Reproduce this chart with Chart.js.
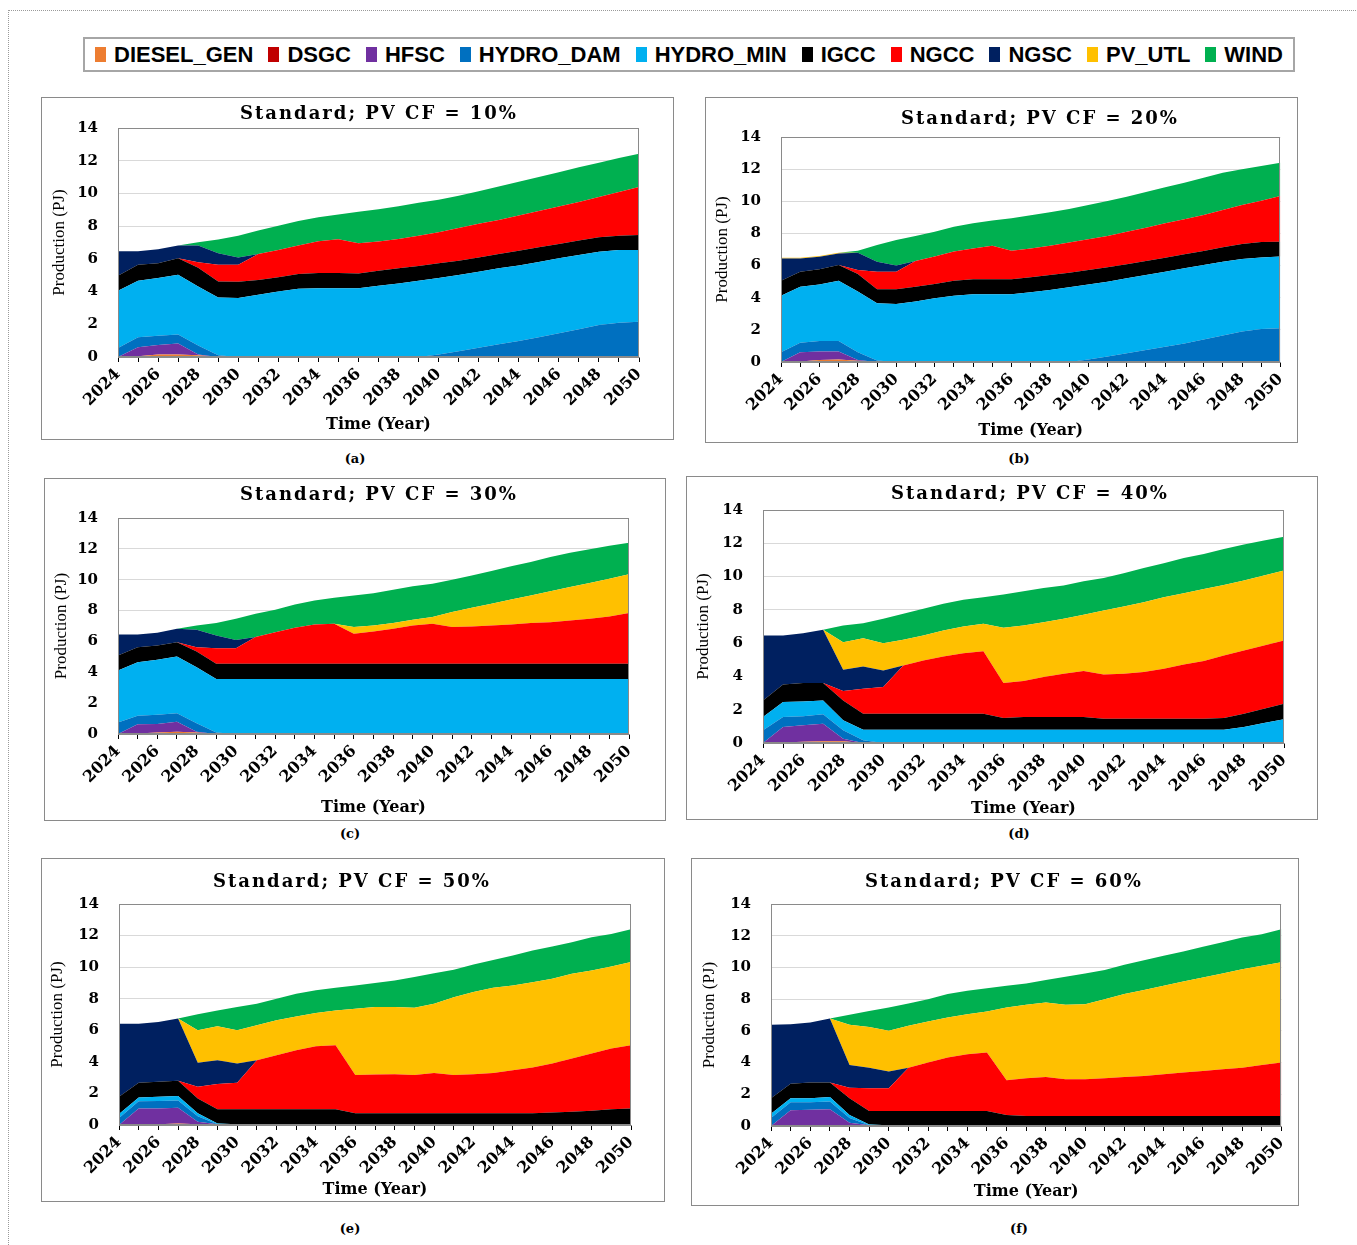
<!DOCTYPE html>
<html><head><meta charset="utf-8">
<script src="https://cdn.jsdelivr.net/npm/chart.js@4"></script>
<style>
body{margin:0;background:#fff;width:1357px;height:1245px;position:relative;overflow:hidden;}
.frame{position:absolute;left:8px;top:10px;width:1349px;height:1240px;border-top:1px dotted #9a9a9a;border-left:1px dotted #9a9a9a;}
.panel{position:absolute;box-sizing:border-box;border:1px solid #8a8a8a;background:#fff;}
.panel canvas{display:block;}
.cap{position:absolute;font-family:'DejaVu Serif';font-weight:bold;font-size:13px;transform:translate(-50%,-50%);white-space:nowrap;}
.ttl{position:absolute;font-family:'DejaVu Serif';font-weight:bold;font-size:18px;letter-spacing:2px;line-height:22px;transform:translate(-50%,-50%);white-space:nowrap;color:#000;}
#legend{position:absolute;left:83px;top:37px;width:1212px;height:35px;box-sizing:border-box;border:2px solid #a6a6a6;display:flex;align-items:center;justify-content:center;gap:15px;font-family:'Liberation Sans';font-weight:bold;font-size:22px;color:#000;}
#legend .it{display:flex;align-items:center;gap:8px;white-space:nowrap;}
#legend .sw{display:inline-block;width:11px;height:15px;}
</style></head>
<body>
<div class="frame"></div>
<div id="legend"></div>
<div id="panels"></div>
<script>
// ---------- DATA ----------
const years = ['2024','2025','2026','2027','2028','2029','2030','2031','2032','2033','2034','2035','2036','2037','2038','2039','2040','2041','2042','2043','2044','2045','2046','2047','2048','2049','2050'];
const seriesNames = ['DIESEL_GEN','DSGC','HFSC','HYDRO_DAM','HYDRO_MIN','IGCC','NGCC','NGSC','PV_UTL','WIND'];
const panelTitles = ['Standard; PV CF = 10%','Standard; PV CF = 20%','Standard; PV CF = 30%','Standard; PV CF = 40%','Standard; PV CF = 50%','Standard; PV CF = 60%'];
const panelCaptions = ['(a)','(b)','(c)','(d)','(e)','(f)'];
const yAxisTitle = 'Production (PJ)';
const xAxisTitle = 'Time (Year)';

// (a) PV CF = 10%
const a_DIESEL = [0,0.05,0.15,0.15,0.1,0,0,0,0,0,0,0,0,0,0,0,0,0,0,0,0,0,0,0,0,0,0];
const a_DSGC   = [0,0,0,0,0,0,0,0,0,0,0,0,0,0,0,0,0,0,0,0,0,0,0,0,0,0,0];
const a_HFSC   = [0,0.55,0.59,0.67,0.05,0,0,0,0,0,0,0,0,0,0,0,0,0,0,0,0,0,0,0,0,0,0];
const a_HDAM   = [0.55,0.6,0.56,0.55,0.55,0.1,0,0,0,0,0,0,0,0,0,0,0.15,0.35,0.57,0.78,0.98,1.2,1.45,1.7,1.96,2.1,2.15];
const a_HMIN   = [3.5,3.46,3.53,3.66,3.61,3.54,3.6,3.8,4.0,4.17,4.21,4.21,4.21,4.36,4.5,4.66,4.68,4.66,4.64,4.64,4.62,4.61,4.58,4.54,4.48,4.44,4.39];
const a_IGCC   = [0.92,0.98,0.9,1.0,1.14,0.98,1.0,0.9,0.87,0.9,0.92,0.92,0.9,0.92,0.92,0.9,0.9,0.88,0.88,0.88,0.9,0.9,0.88,0.88,0.88,0.88,0.92];
const a_NGCC   = [0,0,0,0,0.34,1.02,1.04,1.6,1.67,1.74,1.95,2.07,1.84,1.78,1.8,1.86,1.9,2.0,2.05,2.08,2.15,2.21,2.29,2.35,2.46,2.66,2.93];
const a_NGSC   = [1.49,0.82,0.85,0.78,1.02,0.7,0.45,0,0,0,0,0,0,0,0,0,0,0,0,0,0,0,0,0,0,0,0];
const a_PV     = [0,0,0,0,0,0,0,0,0,0,0,0,0,0,0,0,0,0,0,0,0,0,0,0,0,0,0];
const a_WIND   = [0,0,0,0,0.2,0.84,1.33,1.43,1.48,1.51,1.47,1.51,1.93,1.98,2.0,2.01,1.98,1.97,2.0,2.05,2.07,2.08,2.09,2.13,2.1,2.09,2.04];

// (b) PV CF = 20%
const b_DIESEL = [0,0.03,0.12,0.15,0.08,0,0,0,0,0,0,0,0,0,0,0,0,0,0,0,0,0,0,0,0,0,0];
const b_DSGC   = [0,0,0,0,0,0,0,0,0,0,0,0,0,0,0,0,0,0,0,0,0,0,0,0,0,0,0];
const b_HFSC   = [0,0.57,0.53,0.5,0.05,0,0,0,0,0,0,0,0,0,0,0,0,0,0,0,0,0,0,0,0,0,0];
const b_HDAM   = [0.6,0.6,0.65,0.65,0.47,0.1,0,0,0,0,0,0,0,0,0,0,0.15,0.35,0.55,0.75,0.95,1.15,1.4,1.65,1.9,2.05,2.1];
const b_HMIN   = [3.53,3.49,3.53,3.76,3.78,3.55,3.61,3.76,3.96,4.13,4.21,4.21,4.21,4.34,4.48,4.65,4.68,4.65,4.66,4.66,4.67,4.68,4.64,4.59,4.51,4.46,4.46];
const b_IGCC   = [0.93,0.93,0.94,0.98,1.1,0.87,0.91,0.93,0.89,0.93,0.94,0.94,0.94,0.93,0.93,0.91,0.9,0.89,0.87,0.88,0.87,0.87,0.87,0.9,0.93,0.96,0.93];
const b_NGCC   = [0,0,0,0,0.25,1.1,1.1,1.6,1.71,1.81,1.92,2.09,1.78,1.8,1.83,1.87,1.91,1.95,2.03,2.07,2.14,2.18,2.24,2.32,2.43,2.57,2.84];
const b_NGSC   = [1.38,0.82,0.78,0.71,1.07,0.62,0.38,0,0,0,0,0,0,0,0,0,0,0,0,0,0,0,0,0,0,0,0];
const b_PV     = [0.05,0.05,0.05,0.05,0,0,0,0,0,0,0,0,0,0,0,0,0,0,0,0,0,0,0,0,0,0,0];
const b_WIND   = [0,0,0,0,0.13,1.04,1.59,1.55,1.55,1.55,1.56,1.56,2.01,2.06,2.08,2.09,2.13,2.18,2.18,2.22,2.24,2.28,2.32,2.32,2.23,2.16,2.07];

// (c) PV CF = 30%
const c_DIESEL = [0,0.03,0.1,0.15,0.1,0,0,0,0,0,0,0,0,0,0,0,0,0,0,0,0,0,0,0,0,0,0];
const c_DSGC   = [0,0,0,0,0,0,0,0,0,0,0,0,0,0,0,0,0,0,0,0,0,0,0,0,0,0,0];
const c_HFSC   = [0,0.6,0.55,0.65,0.05,0,0,0,0,0,0,0,0,0,0,0,0,0,0,0,0,0,0,0,0,0,0];
const c_HDAM   = [0.75,0.55,0.6,0.55,0.55,0.1,0,0,0,0,0,0,0,0,0,0,0,0,0,0,0,0,0,0,0,0,0];
const c_HMIN   = [3.36,3.47,3.56,3.67,3.63,3.47,3.57,3.57,3.57,3.57,3.57,3.57,3.57,3.57,3.57,3.57,3.57,3.57,3.57,3.57,3.57,3.57,3.57,3.57,3.57,3.57,3.57];
const c_IGCC   = [0.98,0.98,0.93,0.93,1.02,0.98,0.98,0.98,0.98,0.98,0.98,0.98,0.98,0.98,0.98,0.98,0.98,0.98,0.98,0.98,0.98,0.98,0.98,0.98,0.98,0.98,0.98];
const c_NGCC   = [0,0,0,0,0.28,1.01,1.01,1.73,2.05,2.33,2.55,2.59,1.94,2.1,2.27,2.48,2.59,2.38,2.42,2.48,2.55,2.64,2.7,2.81,2.92,3.07,3.29];
const c_NGSC   = [1.36,0.82,0.82,0.87,1.12,0.83,0.54,0,0,0,0,0,0,0,0,0,0,0,0,0,0,0,0,0,0,0,0];
const c_PV     = [0,0,0,0,0,0,0,0,0,0,0,0,0.44,0.38,0.37,0.37,0.44,0.97,1.21,1.41,1.62,1.79,2.01,2.16,2.31,2.44,2.51];
const c_WIND   = [0,0,0,0,0.28,0.8,1.37,1.51,1.45,1.52,1.56,1.69,2.05,2.1,2.16,2.17,2.16,2.1,2.1,2.12,2.15,2.17,2.21,2.23,2.2,2.14,2.05];

// (d) PV CF = 40%
const d_DIESEL = [0,0.03,0.08,0.1,0.1,0,0,0,0,0,0,0,0,0,0,0,0,0,0,0,0,0,0,0,0,0,0];
const d_DSGC   = [0,0,0,0,0,0,0,0,0,0,0,0,0,0,0,0,0,0,0,0,0,0,0,0,0,0,0];
const d_HFSC   = [0,0.93,0.98,1.06,0.16,0,0,0,0,0,0,0,0,0,0,0,0,0,0,0,0,0,0,0,0,0,0];
const d_HDAM   = [0.76,0.6,0.54,0.56,0.5,0.16,0,0,0,0,0,0,0,0,0,0,0,0,0,0,0,0,0,0,0,0,0];
const d_HMIN   = [0.8,0.9,0.9,0.84,0.6,0.64,0.8,0.8,0.8,0.8,0.8,0.8,0.8,0.8,0.8,0.8,0.8,0.8,0.8,0.8,0.8,0.8,0.8,0.8,0.96,1.2,1.42];
const d_IGCC   = [1.0,1.06,1.1,1.04,1.2,0.96,0.96,0.96,0.96,0.96,0.96,0.96,0.7,0.76,0.76,0.76,0.76,0.66,0.66,0.66,0.66,0.66,0.66,0.7,0.8,0.86,0.94];
const d_NGCC   = [0,0,0,0,0.56,1.5,1.6,2.9,3.2,3.44,3.64,3.76,2.1,2.16,2.4,2.6,2.76,2.66,2.7,2.8,3.0,3.26,3.46,3.76,3.8,3.8,3.8];
const d_NGSC   = [3.9,2.94,3.0,3.2,1.28,1.34,1.0,0,0,0,0,0,0,0,0,0,0,0,0,0,0,0,0,0,0,0,0];
const d_PV     = [0,0,0,0,1.66,1.7,1.64,1.54,1.5,1.56,1.6,1.64,3.32,3.34,3.3,3.3,3.38,3.84,4.04,4.2,4.3,4.28,4.34,4.24,4.2,4.2,4.2];
const d_WIND   = [0,0,0,0,1.0,0.9,1.46,1.56,1.6,1.6,1.6,1.6,2.0,2.06,2.06,2.0,2.02,1.96,2.0,2.06,2.04,2.12,2.1,2.16,2.16,2.1,2.04];

// (e) PV CF = 50%
const e_DIESEL = [0,0.02,0.05,0.1,0.05,0.05,0.05,0.05,0.05,0.05,0.05,0.05,0.05,0.05,0.05,0.05,0.05,0.05,0.05,0.05,0.05,0.05,0.05,0.05,0.05,0.05,0.05];
const e_DSGC   = [0,0,0,0,0,0,0,0,0,0,0,0,0,0,0,0,0,0,0,0,0,0,0,0,0,0,0];
const e_HFSC   = [0,1.03,1.0,1.0,0.15,0,0,0,0,0,0,0,0,0,0,0,0,0,0,0,0,0,0,0,0,0,0];
const e_HDAM   = [0.45,0.45,0.47,0.45,0.35,0,0,0,0,0,0,0,0,0,0,0,0,0,0,0,0,0,0,0,0,0,0];
const e_HMIN   = [0.24,0.25,0.27,0.28,0.19,0.05,0,0,0,0,0,0,0,0,0,0,0,0,0,0,0,0,0,0,0,0,0];
const e_IGCC   = [1.1,0.92,0.95,0.97,0.94,0.89,0.94,0.94,0.94,0.94,0.94,0.94,0.69,0.69,0.69,0.69,0.69,0.69,0.69,0.69,0.69,0.69,0.74,0.79,0.85,0.94,1.0];
const e_NGCC   = [0,0,0,0,0.74,1.6,1.68,3.11,3.43,3.75,4.0,4.06,2.42,2.46,2.48,2.42,2.56,2.42,2.48,2.56,2.73,2.9,3.1,3.37,3.63,3.85,4.0];
const e_NGSC   = [4.63,3.75,3.79,3.94,1.52,1.51,1.22,0,0,0,0,0,0,0,0,0,0,0,0,0,0,0,0,0,0,0,0];
const e_PV     = [0,0,0,0,2.06,2.15,2.11,2.22,2.21,2.14,2.1,2.21,4.21,4.27,4.25,4.27,4.38,4.94,5.2,5.39,5.37,5.41,5.37,5.37,5.26,5.2,5.27];
const e_WIND   = [0,0,0,0,1.01,1.01,1.47,1.36,1.37,1.44,1.44,1.43,1.47,1.52,1.69,1.94,1.94,1.73,1.75,1.77,1.9,2.0,2.05,2.0,2.1,2.06,2.08];

// (f) PV CF = 60%
const f_DIESEL = [0,0.02,0.04,0.06,0.05,0.05,0.05,0.05,0.05,0.05,0.05,0.05,0.05,0.05,0.05,0.05,0.05,0.05,0.05,0.05,0.05,0.05,0.05,0.05,0.05,0.05,0.05];
const f_DSGC   = [0,0,0,0,0,0,0,0,0,0,0,0,0,0,0,0,0,0,0,0,0,0,0,0,0,0,0];
const f_HFSC   = [0,0.98,0.99,0.99,0.15,0,0,0,0,0,0,0,0,0,0,0,0,0,0,0,0,0,0,0,0,0,0];
const f_HDAM   = [0.5,0.5,0.47,0.5,0.3,0,0,0,0,0,0,0,0,0,0,0,0,0,0,0,0,0,0,0,0,0,0];
const f_HMIN   = [0.28,0.25,0.25,0.28,0.19,0.05,0,0,0,0,0,0,0,0,0,0,0,0,0,0,0,0,0,0,0,0,0];
const f_IGCC   = [0.97,0.92,0.99,0.91,1.06,0.85,0.9,0.9,0.9,0.9,0.9,0.9,0.64,0.58,0.58,0.58,0.58,0.58,0.58,0.58,0.58,0.58,0.58,0.58,0.58,0.58,0.58];
const f_NGCC   = [0,0,0,0,0.67,1.43,1.43,2.73,3.05,3.37,3.58,3.68,2.19,2.38,2.46,2.32,2.32,2.38,2.46,2.53,2.63,2.74,2.84,2.95,3.05,3.22,3.37];
const f_NGSC   = [4.63,3.75,3.79,4.04,1.43,1.3,1.05,0,0,0,0,0,0,0,0,0,0,0,0,0,0,0,0,0,0,0,0];
const f_PV     = [0,0,0,0,2.53,2.57,2.57,2.64,2.59,2.52,2.52,2.59,4.59,4.63,4.7,4.69,4.73,4.99,5.23,5.41,5.58,5.75,5.9,6.04,6.21,6.25,6.32];
const f_WIND   = [0,0,0,0,0.63,1.01,1.47,1.41,1.41,1.48,1.48,1.47,1.37,1.35,1.41,1.77,1.94,1.83,1.85,1.89,1.9,1.89,1.94,1.96,2.0,2.0,2.08];

const panelSeries = [
  [a_DIESEL,a_DSGC,a_HFSC,a_HDAM,a_HMIN,a_IGCC,a_NGCC,a_NGSC,a_PV,a_WIND],
  [b_DIESEL,b_DSGC,b_HFSC,b_HDAM,b_HMIN,b_IGCC,b_NGCC,b_NGSC,b_PV,b_WIND],
  [c_DIESEL,c_DSGC,c_HFSC,c_HDAM,c_HMIN,c_IGCC,c_NGCC,c_NGSC,c_PV,c_WIND],
  [d_DIESEL,d_DSGC,d_HFSC,d_HDAM,d_HMIN,d_IGCC,d_NGCC,d_NGSC,d_PV,d_WIND],
  [e_DIESEL,e_DSGC,e_HFSC,e_HDAM,e_HMIN,e_IGCC,e_NGCC,e_NGSC,e_PV,e_WIND],
  [f_DIESEL,f_DSGC,f_HFSC,f_HDAM,f_HMIN,f_IGCC,f_NGCC,f_NGSC,f_PV,f_WIND]
];

// ---------- STYLE / LAYOUT ----------
const seriesColors = ['#ED7D31','#C00000','#7030A0','#0070C0','#00B0F0','#000000','#FF0000','#002060','#FFC000','#00B050'];
// box (L,T,W,H), plot rect (pl,pt,pr,pb), title centre (tx,tc), y-title centre offset, x-title offset from bottom, caption centre
const panelLayout = [
  {L:41, T:97,  W:633, H:343, pl:118, pt:128, pr:639,  pb:357,  tx:379,  tc:113, yt:19, xt:15, cx:355,  cy:458},
  {L:705,T:97,  W:593, H:346, pl:781, pt:137, pr:1291, pb:362,  tx:1040, tc:118, yt:18, xt:12, cx:1019, cy:458},
  {L:44, T:478, W:622, H:343, pl:118, pt:518, pr:629,  pb:734,  tx:379,  tc:494, yt:18, xt:13, cx:350,  cy:833},
  {L:686,T:476, W:632, H:344, pl:763, pt:510, pr:1284, pb:743,  tx:1030, tc:493, yt:18, xt:11, cx:1019, cy:833},
  {L:41, T:858, W:624, H:344, pl:119, pt:904, pr:631,  pb:1125, tx:352,  tc:881, yt:17, xt:12, cx:350,  cy:1228},
  {L:691,T:858, W:608, H:348, pl:771, pt:904, pr:1284, pb:1126, tx:1004, tc:881, yt:19, xt:14, cx:1019, cy:1228}
];

// legend
const leg = document.getElementById('legend');
seriesNames.forEach((n,i)=>{
  const it=document.createElement('div'); it.className='it';
  const sw=document.createElement('span'); sw.className='sw'; sw.style.background=seriesColors[i];
  const tx=document.createElement('span'); tx.textContent=n;
  it.appendChild(sw); it.appendChild(tx); leg.appendChild(it);
});

const plotFrame = {
  id:'plotFrame',
  afterDraw(c){
    const {ctx, chartArea:a} = c;
    ctx.save(); ctx.strokeStyle='#8a8a8a'; ctx.lineWidth=1;
    ctx.strokeRect(Math.round(a.left)+0.5, Math.round(a.top)+0.5, Math.round(a.right-a.left)-1, Math.round(a.bottom-a.top)-1);
    ctx.restore();
  }
};

const host = document.getElementById('panels');
panelLayout.forEach((p,k)=>{
  const box=document.createElement('div'); box.className='panel';
  box.style.left=p.L+'px'; box.style.top=p.T+'px'; box.style.width=p.W+'px'; box.style.height=p.H+'px';
  const cw=p.W-2, ch=p.H-2;
  const cv=document.createElement('canvas'); cv.width=cw; cv.height=ch; cv.style.width=cw+'px'; cv.style.height=ch+'px';
  box.appendChild(cv); host.appendChild(box);
  const cap=document.createElement('div'); cap.className='cap'; cap.textContent=panelCaptions[k];
  cap.style.left=p.cx+'px'; cap.style.top=p.cy+'px'; document.body.appendChild(cap);
  const ttl=document.createElement('div'); ttl.className='ttl'; ttl.textContent=panelTitles[k];
  ttl.style.left=p.tx+'px'; ttl.style.top=p.tc+'px'; document.body.appendChild(ttl);

  const leftW = p.pl - p.L - 1;
  const topH = p.pt - p.T - 1;
  const rightPad = cw - (p.pr - p.L - 1);
  const bottomH = ch - (p.pb - p.T - 1);
  const yLH = 17*1.2, xLH = 16*1.2;

  const datasets = seriesNames.map((n,i)=>({
    label:n, data:panelSeries[k][i], backgroundColor:seriesColors[i], borderColor:'transparent',
    borderWidth:0, pointRadius:0, pointHoverRadius:0, tension:0, fill: i===0 ? 'origin' : '-1'
  }));

  new Chart(cv, {
    type:'line',
    data:{labels:years, datasets},
    plugins:[plotFrame],
    options:{
      responsive:false, animation:false, devicePixelRatio:1,
      layout:{padding:{left:0,top:topH,right:rightPad,bottom:0}},
      plugins:{ legend:{display:false}, tooltip:{enabled:false}, title:{display:false} },
      scales:{
        x:{
          ticks:{autoSkip:false, minRotation:45, maxRotation:45, color:'#000', padding:3,
            font:{family:'DejaVu Serif', weight:'bold', size:16},
            callback:(v,i)=> i%2===0 ? years[i] : ''},
          grid:{drawOnChartArea:false, drawTicks:true, tickLength:5, color:'#000'},
          border:{color:'#8a8a8a'},
          title:{display:true, text:xAxisTitle, color:'#000',
            font:{family:'DejaVu Serif', weight:'bold', size:16, lineHeight:1.2},
            padding:{top:0, bottom:Math.max(0,p.xt - 1 - xLH/2)}},
          afterFit:(s)=>{ s.height = bottomH; }
        },
        y:{
          stacked:true, min:0, max:14,
          ticks:{stepSize:2, color:'#000', padding:20, font:{family:'DejaVu Serif', weight:'bold', size:15}},
          grid:{color:'#d9d9d9', drawTicks:false},
          border:{color:'#8a8a8a'},
          title:{display:true, text:yAxisTitle, color:'#000',
            font:{family:'Liberation Serif', size:17, lineHeight:1.2},
            padding:{top:Math.max(0,p.yt - 1 - yLH/2), bottom:0}},
          afterFit:(s)=>{ s.width = leftW; }
        }
      }
    }
  });
});
</script>
</body></html>
